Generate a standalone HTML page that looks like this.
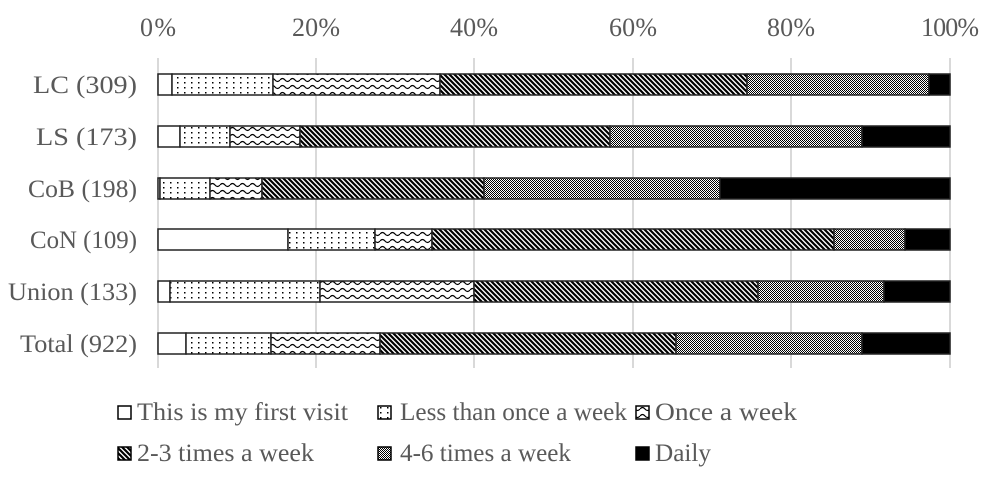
<!DOCTYPE html>
<html><head><meta charset="utf-8"><style>
body{margin:0;background:#fff}
svg text{font-family:"Liberation Serif",serif;fill:#595959}
</style></head><body>
<svg width="987" height="485" xmlns="http://www.w3.org/2000/svg">
<defs>
<pattern id="dots" width="7" height="5" patternUnits="userSpaceOnUse"><rect width="7" height="5" fill="#fff"/><rect x="2" y="2" width="1.5" height="1.5" fill="#000"/></pattern>
<pattern id="wave" width="10" height="7" patternUnits="userSpaceOnUse"><rect width="10" height="7" fill="#fff"/><path d="M0 3 Q2.5 0 5 3 T10 3" fill="none" stroke="#000" stroke-width="1.2"/></pattern>
<pattern id="diag" width="5" height="5" patternUnits="userSpaceOnUse"><rect width="5" height="5" fill="#fff"/><path d="M-1 -1 L6 6 M-1 4 L1 6 M4 -1 L6 1" stroke="#000" stroke-width="2.2"/></pattern>
<pattern id="dense" width="2" height="2" patternUnits="userSpaceOnUse"><rect width="2" height="2" fill="#fff"/><rect width="1" height="1" fill="#000"/><rect x="1" y="1" width="1" height="1" fill="#000"/></pattern>
</defs>
<g stroke="#d9d9d9" stroke-width="2">
<line x1="158" y1="58" x2="158" y2="368"/><line x1="316" y1="58" x2="316" y2="368"/><line x1="474" y1="58" x2="474" y2="368"/><line x1="633" y1="58" x2="633" y2="368"/><line x1="791" y1="58" x2="791" y2="368"/><line x1="950" y1="58" x2="950" y2="368"/>
</g>
<g font-size="26" lengthAdjust="spacingAndGlyphs">
<text x="140" y="36" textLength="36">0%</text><text x="292" y="36" textLength="48">20%</text><text x="450" y="36" textLength="48">40%</text><text x="609" y="36" textLength="48">60%</text><text x="767" y="36" textLength="48">80%</text><text x="921" y="36" textLength="58">100%</text>
</g>
<g font-size="25">
<text x="33" y="93" textLength="104" lengthAdjust="spacingAndGlyphs">LC (309)</text>
<text x="36" y="145" textLength="101" lengthAdjust="spacingAndGlyphs">LS (173)</text>
<text x="28" y="197" textLength="109" lengthAdjust="spacingAndGlyphs">CoB (198)</text>
<text x="30" y="248" textLength="107" lengthAdjust="spacingAndGlyphs">CoN (109)</text>
<text x="8" y="300" textLength="129" lengthAdjust="spacingAndGlyphs">Union (133)</text>
<text x="20" y="352" textLength="117" lengthAdjust="spacingAndGlyphs">Total (922)</text>
</g>
<g font-size="25">
<rect x="118" y="406" width="13" height="13" fill="#fff" stroke="#000" stroke-width="1.5"/><text x="137" y="420" textLength="211" lengthAdjust="spacingAndGlyphs">This is my first visit</text>
<rect x="378" y="406" width="13" height="13" fill="url(#dots)" stroke="#000" stroke-width="1.5"/><text x="400" y="420" textLength="227" lengthAdjust="spacingAndGlyphs">Less than once a week</text>
<rect x="636" y="406" width="13" height="13" fill="url(#wave)" stroke="#000" stroke-width="1.5"/><text x="655" y="420" textLength="142" lengthAdjust="spacingAndGlyphs">Once a week</text>
<rect x="118" y="447" width="13" height="13" fill="url(#diag)" stroke="#000" stroke-width="1.5"/><text x="137" y="461" textLength="177" lengthAdjust="spacingAndGlyphs">2-3 times a week</text>
<rect x="378" y="447" width="13" height="13" fill="url(#dense)" stroke="#000" stroke-width="1.5"/><text x="400" y="461" textLength="171" lengthAdjust="spacingAndGlyphs">4-6 times a week</text>
<rect x="636" y="447" width="13" height="13" fill="#000" stroke="#000" stroke-width="1.5"/><text x="655" y="461" textLength="56" lengthAdjust="spacingAndGlyphs">Daily</text>
</g>
<g stroke="#222" stroke-width="1.5">
<rect x="158" y="74" width="14" height="21" fill="#fff"/><rect x="172" y="74" width="101" height="21" fill="url(#dots)"/><rect x="273" y="74" width="167" height="21" fill="url(#wave)"/><rect x="440" y="74" width="307" height="21" fill="url(#diag)"/><rect x="747" y="74" width="182" height="21" fill="url(#dense)"/><rect x="929" y="74" width="21" height="21" fill="#000"/>
<rect x="158" y="126" width="22" height="21" fill="#fff"/><rect x="180" y="126" width="50" height="21" fill="url(#dots)"/><rect x="230" y="126" width="70" height="21" fill="url(#wave)"/><rect x="300" y="126" width="310" height="21" fill="url(#diag)"/><rect x="610" y="126" width="252" height="21" fill="url(#dense)"/><rect x="862" y="126" width="88" height="21" fill="#000"/>
<rect x="158" y="178" width="2" height="21" fill="#fff"/><rect x="160" y="178" width="50" height="21" fill="url(#dots)"/><rect x="210" y="178" width="52" height="21" fill="url(#wave)"/><rect x="262" y="178" width="222" height="21" fill="url(#diag)"/><rect x="484" y="178" width="236" height="21" fill="url(#dense)"/><rect x="720" y="178" width="230" height="21" fill="#000"/>
<rect x="158" y="229" width="130" height="21" fill="#fff"/><rect x="288" y="229" width="87" height="21" fill="url(#dots)"/><rect x="375" y="229" width="57" height="21" fill="url(#wave)"/><rect x="432" y="229" width="402" height="21" fill="url(#diag)"/><rect x="834" y="229" width="71" height="21" fill="url(#dense)"/><rect x="905" y="229" width="45" height="21" fill="#000"/>
<rect x="158" y="281" width="12" height="21" fill="#fff"/><rect x="170" y="281" width="150" height="21" fill="url(#dots)"/><rect x="320" y="281" width="154" height="21" fill="url(#wave)"/><rect x="474" y="281" width="284" height="21" fill="url(#diag)"/><rect x="758" y="281" width="126" height="21" fill="url(#dense)"/><rect x="884" y="281" width="66" height="21" fill="#000"/>
<rect x="158" y="333" width="28" height="21" fill="#fff"/><rect x="186" y="333" width="85" height="21" fill="url(#dots)"/><rect x="271" y="333" width="109" height="21" fill="url(#wave)"/><rect x="380" y="333" width="296" height="21" fill="url(#diag)"/><rect x="676" y="333" width="186" height="21" fill="url(#dense)"/><rect x="862" y="333" width="88" height="21" fill="#000"/>
</g>
</svg>
</body></html>
